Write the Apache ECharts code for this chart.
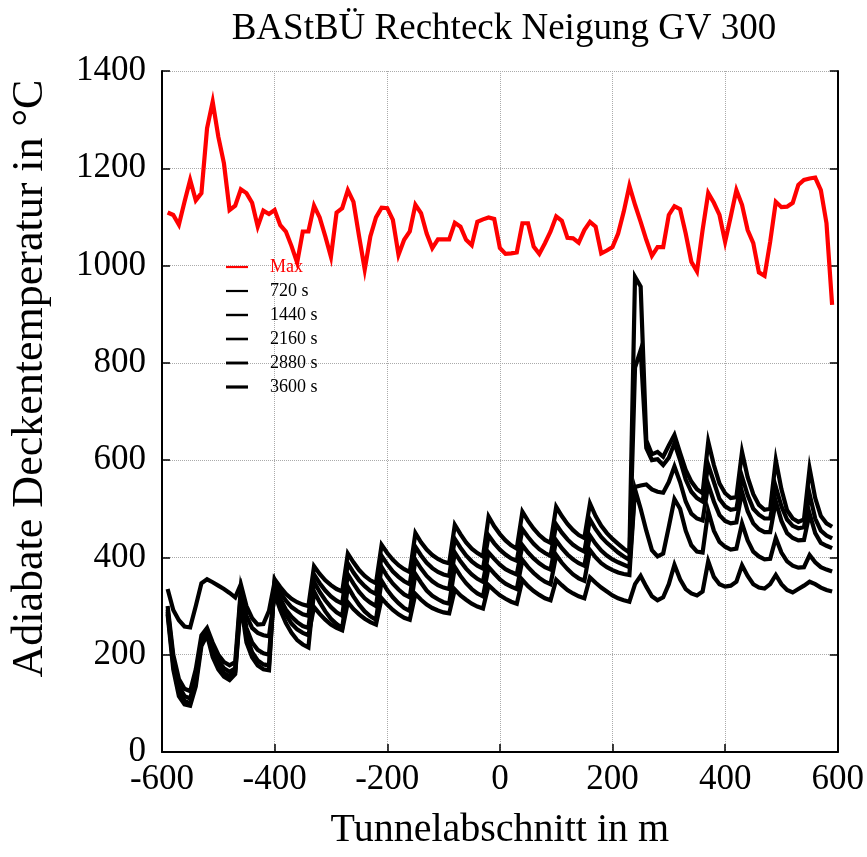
<!DOCTYPE html>
<html>
<head>
<meta charset="utf-8">
<script src="https://cdn.jsdelivr.net/npm/echarts@6/dist/echarts.min.js"></script>
<style>
  html, body { margin: 0; padding: 0; background: #fff; }
  #chart { width: 867px; height: 857px; }
</style>
</head>
<body>
<div id="chart"></div>
<script>
// Tunnel position (m), 10 m steps from -590 to 590
const positions = [
  -590,-580,-570,-560,-550,-540,-530,-520,-510,-500,
  -490,-480,-470,-460,-450,-440,-430,-420,-410,-400,
  -390,-380,-370,-360,-350,-340,-330,-320,-310,-300,
  -290,-280,-270,-260,-250,-240,-230,-220,-210,-200,
  -190,-180,-170,-160,-150,-140,-130,-120,-110,-100,
  -90,-80,-70,-60,-50,-40,-30,-20,-10,0,
  10,20,30,40,50,60,70,80,90,100,
  110,120,130,140,150,160,170,180,190,200,
  210,220,230,240,250,260,270,280,290,300,
  310,320,330,340,350,360,370,380,390,400,
  410,420,430,440,450,460,470,480,490,500,
  510,520,530,540,550,560,570,580,590
];

// Maximum ceiling temperature over the whole run (°C)
const tempMax = [
  1109,1104,1084,1131,1176,1134,1149,1282,1337,1265,
  1210,1114,1123,1157,1149,1129,1080,1113,1106,1114,
  1083,1070,1040,1006,1070,1070,1123,1099,1060,1018,
  1109,1118,1155,1131,1060,992,1060,1099,1119,1118,
  1094,1022,1053,1070,1125,1108,1066,1036,1054,1054,
  1054,1088,1080,1053,1042,1090,1095,1099,1096,1036,
  1024,1025,1027,1087,1087,1039,1024,1046,1070,1101,
  1092,1057,1056,1047,1073,1090,1080,1025,1031,1038,
  1066,1111,1164,1125,1090,1053,1020,1038,1038,1104,
  1122,1116,1066,1008,988,1073,1149,1129,1104,1049,
  1101,1155,1125,1073,1046,986,979,1049,1131,1120,
  1121,1129,1166,1176,1179,1181,1155,1087,919
];

// Ceiling temperature at 720 s (one row per jet-fan bay)
const temp720 = [
  335,292,271,258,256,300,347,355,349,342,335,327,318,
  345,300,275,262,263,290,
  350,310,282,264,252,245,240,
  298,284,272,262,255,250,
  308,294,283,274,267,262,
  316,303,292,283,276,272,
  325,313,303,296,291,287,285,
  334,322,313,305,299,295,
  343,332,322,315,309,305,
  354,341,331,323,316,312,
  354,343,333,326,320,316,
  359,348,338,330,322,316,312,309,
  345,362,340,320,312,318,345,
  385,355,335,326,322,330,
  392,360,345,340,342,350,
  384,362,345,338,336,345,
  364,345,333,328,335,342,
  350,345,338,333,330
];

// Ceiling temperature at 1440 s
const temp1440 = [
  300,200,150,130,125,170,240,255,225,200,185,178,185,
  335,280,255,245,240,238,
  325,292,265,245,230,221,215,
  330,308,289,274,263,255,
  340,320,303,289,279,272,
  352,333,318,306,296,290,
  366,348,332,321,314,308,305,
  380,362,347,335,326,320,
  380,367,355,346,340,335,
  395,380,368,358,350,345,
  405,389,376,365,357,352,
  415,400,388,380,374,369,366,364,
  540,500,455,415,402,408,463,
  520,500,455,425,412,410,
  495,455,432,422,416,418,
  470,435,412,402,396,397,
  440,410,392,383,379,380,
  405,390,380,375,371
];

// Ceiling temperature at 2160 s
const temp2160 = [
  293,190,135,115,110,155,230,250,215,188,172,165,172,
  325,255,225,210,203,200,
  340,315,293,278,267,259,255,
  350,329,312,298,287,280,
  365,346,329,316,307,300,
  380,361,346,334,324,318,
  395,377,362,351,343,338,335,
  410,392,377,365,356,350,
  410,397,385,376,370,365,
  425,410,398,388,380,375,
  435,419,406,396,388,383,
  445,428,414,404,396,390,385,380,
  545,548,550,540,535,533,555,
  587,555,515,490,480,476,
  550,515,487,475,470,472,
  535,495,470,458,452,452,
  515,475,450,440,435,436,
  490,450,430,424,419
];

// Ceiling temperature at 2880 s
const temp2880 = [
  288,180,125,105,100,145,225,245,205,178,162,156,165,
  315,240,205,188,180,178,
  348,328,311,298,290,283,280,
  365,347,332,320,311,305,
  388,369,353,341,331,325,
  403,386,371,360,351,345,
  422,404,389,378,370,365,362,
  438,420,404,392,383,377,
  445,429,416,406,398,393,
  458,442,428,417,409,403,
  468,451,437,426,418,412,
  478,458,442,430,420,410,402,395,
  790,826,625,600,602,590,605,
  635,600,560,535,522,515,
  590,555,520,505,498,500,
  566,528,500,488,480,480,
  545,505,478,465,460,462,
  530,480,455,445,439
];

// Ceiling temperature at 3600 s
const temp3600 = [
  283,170,115,98,95,135,218,240,195,170,155,148,160,
  305,225,195,178,170,168,
  355,339,325,315,308,303,300,
  382,366,353,343,335,330,
  408,390,374,362,353,347,
  426,409,395,384,376,370,
  450,431,416,405,397,391,388,
  467,448,431,418,409,402,
  484,464,448,435,425,418,
  494,475,459,446,436,430,
  504,485,469,456,446,440,
  511,485,465,450,438,428,418,410,
  977,957,641,612,617,607,630,
  652,615,580,556,540,532,
  638,590,552,532,522,524,
  617,565,530,508,498,500,
  600,540,497,480,473,478,
  583,522,485,470,463
];

const seriesNames = ['Max', '720 s', '1440 s', '2160 s', '2880 s', '3600 s'];
const seriesValues = [tempMax, temp720, temp1440, temp2160, temp2880, temp3600];
const seriesColors = ['#ff0000', '#000000', '#000000', '#000000', '#000000', '#000000'];
// legend key strokes get slightly heavier with time
const legendIcons = [
  'path://M0,0H22V2.2H0Z',
  'path://M0,0H22V2.2H0Z',
  'path://M0,0H22V2.4H0Z',
  'path://M0,0H22V2.6H0Z',
  'path://M0,0H22V2.9H0Z',
  'path://M0,0H22V3.2H0Z'
];

const serif = '"Liberation Serif", "Times New Roman", serif';

const chart = echarts.init(document.getElementById('chart'), null, { renderer: 'canvas' });

const series = seriesNames.map((name, k) => ({
  name: name,
  type: 'line',
  data: positions.map((x, i) => [x, seriesValues[k][i]]),
  symbol: 'none',
  lineStyle: { color: seriesColors[k], width: 4.2, join: 'miter' },
  itemStyle: { color: seriesColors[k] },
  z: k === 0 ? 3 : 2,
  silent: true
}));

const tickFormatter = v => String(v);

chart.setOption({
  animation: false,
  backgroundColor: '#ffffff',
  title: {
    text: 'BAStBÜ Rechteck Neigung GV 300',
    left: 499,
    top: 6,
    textAlign: 'center',
    textStyle: { fontFamily: serif, fontSize: 37, fontWeight: 'normal', color: '#000' }
  },
  legend: {
    orient: 'vertical',
    left: 221,
    top: 253,
    itemWidth: 22,
    itemHeight: 14,
    itemGap: 6,
    selectedMode: false,
    symbolKeepAspect: true,
    textStyle: { fontFamily: serif, fontSize: 18, color: '#000', padding: [0, 0, 0, 17] },
    data: seriesNames.map((name, k) => ({
      name: name,
      icon: legendIcons[k],
      itemStyle: { color: seriesColors[k], borderWidth: 0 },
      textStyle: { color: seriesColors[k] }
    }))
  },
  grid: { left: 157, right: 28, top: 71, bottom: 105, containLabel: false },
  xAxis: {
    type: 'value',
    min: -600,
    max: 600,
    interval: 200,
    name: 'Tunnelabschnitt in m',
    nameLocation: 'middle',
    nameGap: 58,
    nameTextStyle: { fontFamily: serif, fontSize: 40, color: '#000' },
    axisLine: { show: true, onZero: false, lineStyle: { color: '#000', width: 2 } },
    axisTick: { show: true, inside: true, length: 8, lineStyle: { color: '#000', width: 1.5 } },
    axisLabel: { fontFamily: serif, fontSize: 35, color: '#000', margin: 10, formatter: tickFormatter },
    splitLine: { show: true, lineStyle: { color: '#aaaaaa', width: 1, type: 'dotted' } }
  },
  yAxis: [{
    type: 'value',
    min: 0,
    max: 1400,
    interval: 200,
    position: 'left',
    name: 'Adiabate Deckentemperatur in °C',
    nameLocation: 'middle',
    nameGap: 110,
    nameRotate: 90,
    nameTextStyle: { fontFamily: serif, fontSize: 44, color: '#000', padding: [0, 0, 0, 66] },
    axisLine: { show: true, onZero: false, lineStyle: { color: '#000', width: 2 } },
    axisTick: { show: true, inside: true, length: 8, lineStyle: { color: '#000', width: 1.5 } },
    axisLabel: { fontFamily: serif, fontSize: 35, color: '#000', margin: 16, formatter: tickFormatter },
    splitLine: { show: true, lineStyle: { color: '#aaaaaa', width: 1, type: 'dotted' } }
  }, {
    type: 'value',
    min: 0,
    max: 1400,
    interval: 200,
    position: 'right',
    axisLine: { show: true, onZero: false, lineStyle: { color: '#000', width: 2 } },
    axisTick: { show: true, inside: true, length: 8, lineStyle: { color: '#000', width: 1.5 } },
    axisLabel: { show: false },
    splitLine: { show: false }
  }],
  series: series
});
</script>
</body>
</html>
